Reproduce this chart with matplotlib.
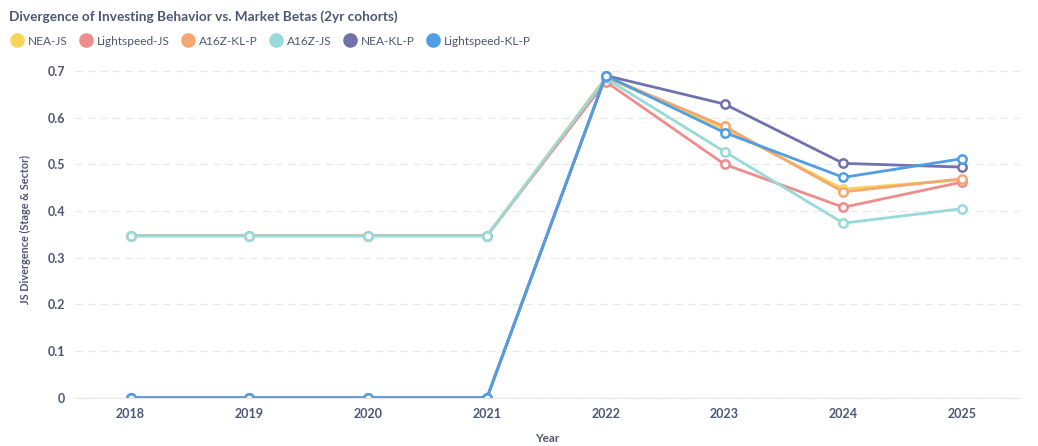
import numpy as np
import matplotlib.pyplot as plt
from matplotlib.lines import Line2D

plt.rcParams['font.family'] = ['Lato', 'DejaVu Sans']

# data
years = [2018, 2019, 2020, 2021, 2022, 2023, 2024, 2025]
series_names = ['NEA-JS', 'Lightspeed-JS', 'A16Z-KL-P', 'A16Z-JS', 'NEA-KL-P', 'Lightspeed-KL-P']
nea_js = [0.347, 0.347, 0.347, 0.347, 0.686, 0.576, 0.447, 0.467]
lightspeed_js = [0.347, 0.347, 0.347, 0.347, 0.677, 0.500, 0.408, 0.462]
a16z_klp = [0, 0, 0, 0, 0.688, 0.581, 0.441, 0.469]
a16z_js = [0.347, 0.347, 0.347, 0.347, 0.684, 0.527, 0.374, 0.405]
nea_klp = [0, 0, 0, 0, 0.690, 0.629, 0.502, 0.494]
lightspeed_klp = [0, 0, 0, 0, 0.690, 0.568, 0.472, 0.512]
all_series = [nea_js, lightspeed_js, a16z_klp, a16z_js, nea_klp, lightspeed_klp]
colors = ['#F9D45C', '#EF8C8C', '#F2A86F', '#98D9D9', '#7172AD', '#509EE3']

text_col = '#4C5773'

fig = plt.figure(figsize=(10.38, 4.46), dpi=100)
ax = fig.add_axes([0.072, 0.108, 0.911, 0.754])

for name, vals, c in zip(series_names, all_series, colors):
    ax.plot(years, vals, color=c, lw=2, marker='o', markersize=6,
            markerfacecolor='white', markeredgecolor=c, markeredgewidth=1.8,
            label=name)

ax.set_xlim(2017.53, 2025.49)
ax.set_ylim(0, 0.72)
ax.set_xticks(years)
ax.set_xticklabels([str(y) for y in years])
ax.set_yticks([0, 0.1, 0.2, 0.3, 0.4, 0.5, 0.6, 0.7])
ax.set_yticklabels(['0', '0.1', '0.2', '0.3', '0.4', '0.5', '0.6', '0.7'])
ax.tick_params(length=0, colors=text_col, labelsize=9, pad=7)
for lbl in ax.get_xticklabels() + ax.get_yticklabels():
    lbl.set_fontweight('bold')
ax.grid(axis='y', color='#E8E8EC', linestyle=(0, (6, 4)), lw=0.9)
ax.set_axisbelow(True)
for s in ['top', 'right', 'left']:
    ax.spines[s].set_visible(False)
ax.spines['bottom'].set_color('#E6E6E9')

ax.set_xlabel('Year', color=text_col, fontsize=8.5, fontweight='bold', labelpad=10)
ax.set_ylabel('JS Divergence (Stage & Sector)', color=text_col, fontsize=7.8,
              fontweight='bold', labelpad=12)

fig.text(0.009, 0.962, 'Divergence of Investing Behavior vs. Market Betas (2yr cohorts)',
         color=text_col, fontsize=9.8, fontweight='bold', va='center')

handles = [Line2D([], [], ls='none', marker='o', markersize=9.5, color=c) for c in colors]
fig.legend(handles, series_names, loc='center left', bbox_to_anchor=(0.006, 0.908),
           ncol=6, frameon=False, fontsize=8.6, handletextpad=0.4, columnspacing=1.05,
           labelcolor=text_col, borderaxespad=0, handlelength=1.0)

fig.savefig('out.png', dpi=100)
